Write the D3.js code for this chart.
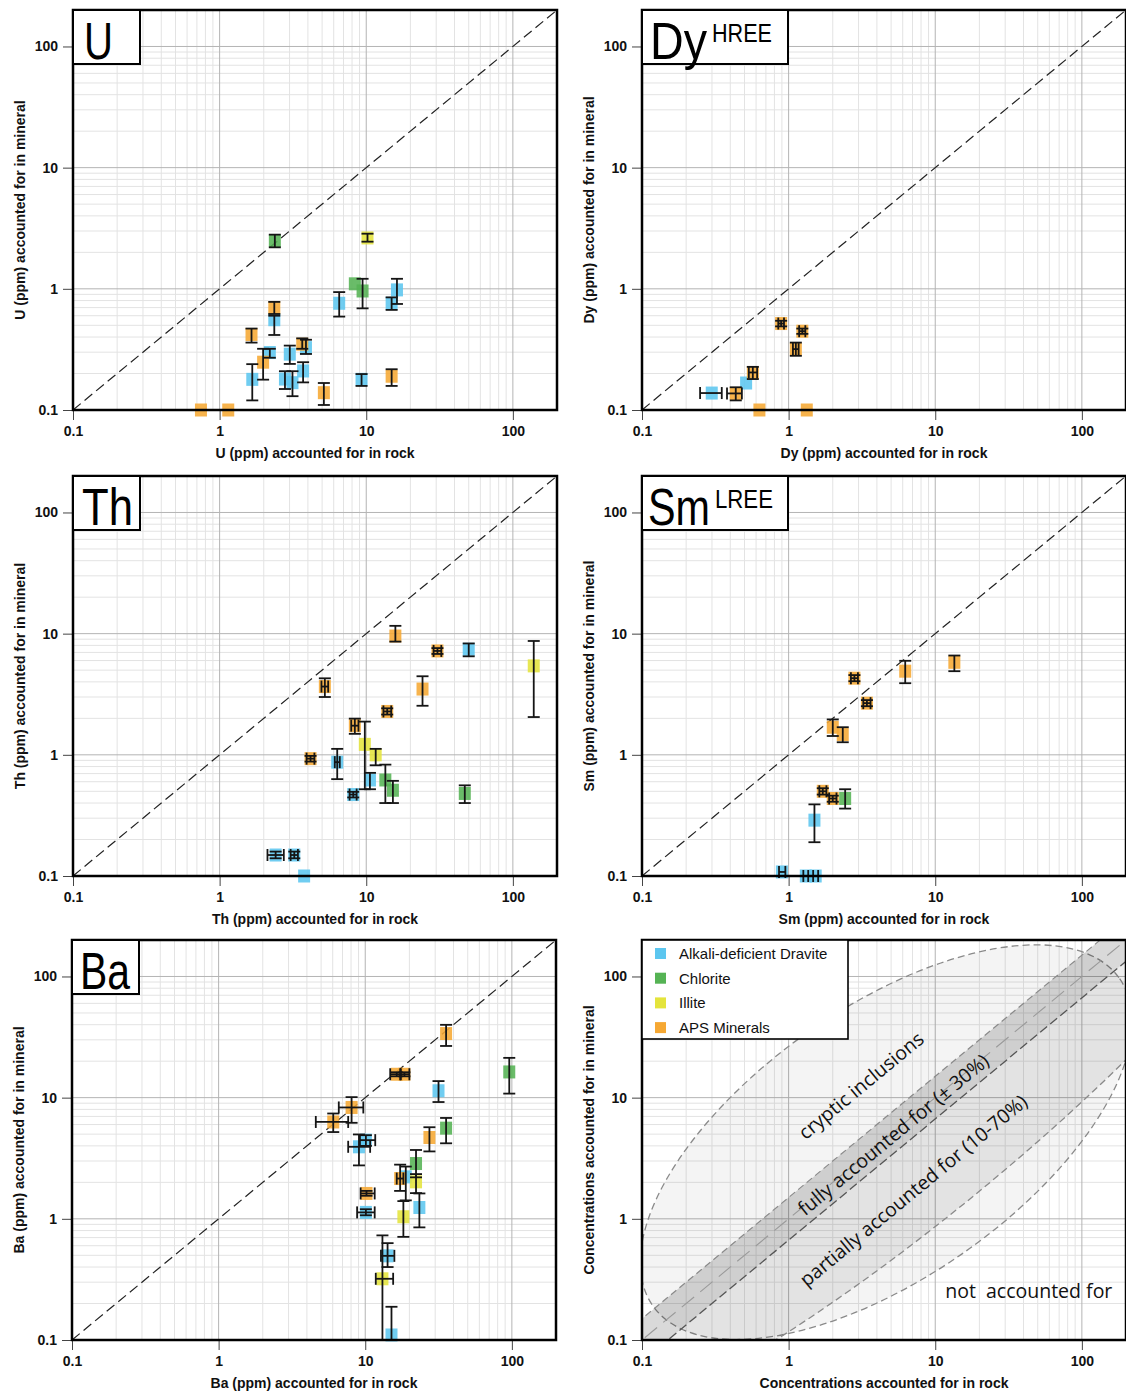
<!DOCTYPE html>
<html>
<head>
<meta charset="utf-8">
<script src="https://cdn.jsdelivr.net/npm/d3@7"></script>
<style>
  body { margin: 0; background: #fff; }
  svg text { font-family: "Liberation Sans", Arial, Helvetica, sans-serif; }
</style>
</head>
<body>
<div id="chart"></div>
<script>
// mineral groups
const groupKeys = ["D", "C", "I", "A"];
const groupNames = ["Alkali-deficient Dravite", "Chlorite", "Illite", "APS Minerals"];
const groupColors = ["#5cc6ef", "#55b354", "#e4e43c", "#f6a833"];

const tickValues = [0.1, 1, 10, 100];
const tickLabels = ["0.1", "1", "10", "100"];

// [group, rock, mineral, mineralLo, mineralHi, rockLo, rockHi]
const uPoints = [
  ["C", 2.38, 2.49, 2.2, 2.8],
  ["I", 10.2, 2.63, 2.45, 2.85],
  ["C", 8.36, 1.10],
  ["C", 9.44, 0.96, 0.69, 1.21],
  ["D", 16.2, 0.98, 0.75, 1.21],
  ["D", 14.9, 0.76, 0.67, 0.85],
  ["D", 6.54, 0.76, 0.59, 0.94],
  ["D", 2.36, 0.556, 0.416, 0.60],
  ["A", 2.36, 0.70, 0.62, 0.78],
  ["A", 1.65, 0.42, 0.36, 0.47],
  ["D", 2.20, 0.298, 0.27, 0.32],
  ["A", 1.98, 0.248, 0.178, 0.32],
  ["D", 3.01, 0.289, 0.24, 0.34],
  ["D", 3.88, 0.327, 0.29, 0.38],
  ["A", 3.66, 0.349, 0.32, 0.39],
  ["D", 2.79, 0.18, 0.149, 0.209],
  ["D", 3.14, 0.168, 0.13, 0.209],
  ["D", 3.71, 0.21, 0.169, 0.248],
  ["D", 1.67, 0.179, 0.12, 0.239],
  ["A", 5.14, 0.139, 0.11, 0.167],
  ["D", 9.29, 0.179, 0.158, 0.198],
  ["A", 14.9, 0.19, 0.158, 0.217],
  ["A", 0.746, 0.1],
  ["A", 1.145, 0.1]
];

const dyPoints = [
  ["A", 0.889, 0.517, 0.49, 0.545, 0.85, 0.93],
  ["A", 1.24, 0.447, 0.425, 0.47, 1.18, 1.30],
  ["A", 1.12, 0.318, 0.28, 0.36, 1.07, 1.17],
  ["D", 0.513, 0.167],
  ["A", 0.570, 0.204, 0.18, 0.227, 0.535, 0.61],
  ["A", 0.436, 0.137, 0.12, 0.154, 0.38, 0.48],
  ["D", 0.299, 0.138, null, null, 0.249, 0.35],
  ["A", 0.632, 0.1],
  ["A", 1.33, 0.1]
];

const thPoints = [
  ["A", 15.8, 9.56, 8.6, 11.6],
  ["A", 30.6, 7.2, 6.8, 7.6, 28.8, 32.5],
  ["D", 50, 7.43, 6.5, 8.3],
  ["I", 138.8, 5.42, 2.05, 8.7],
  ["A", 5.22, 3.66, 3.0, 4.28, 4.95, 5.5],
  ["A", 24.2, 3.49, 2.54, 4.45],
  ["A", 13.9, 2.28, 2.15, 2.42, 13.1, 14.8],
  ["A", 8.36, 1.74, 1.49, 1.99, 7.9, 8.85],
  ["I", 9.78, 1.22, 0.52, 1.88],
  ["I", 11.6, 1.0, 0.82, 1.12],
  ["A", 4.17, 0.93, 0.88, 0.98, 3.92, 4.43],
  ["D", 6.34, 0.87, 0.63, 1.12, 6.1, 6.6],
  ["D", 10.6, 0.62, 0.52, 0.71],
  ["D", 8.15, 0.47, 0.445, 0.495, 7.7, 8.6],
  ["C", 13.5, 0.62, 0.40, 0.83],
  ["C", 15.2, 0.51, 0.40, 0.61],
  ["C", 47, 0.48, 0.40, 0.56],
  ["D", 2.41, 0.149, 0.14, 0.159, 2.12, 2.74],
  ["D", 3.23, 0.149, 0.14, 0.159, 3.05, 3.42],
  ["D", 3.77, 0.1]
];

const smPoints = [
  ["A", 13.5, 5.8, 4.9, 6.6],
  ["A", 6.24, 4.9, 3.9, 5.97],
  ["A", 2.81, 4.29, 4.05, 4.55, 2.66, 2.97],
  ["A", 3.42, 2.67, 2.52, 2.83, 3.23, 3.62],
  ["A", 2.0, 1.69, 1.43, 1.96],
  ["A", 2.34, 1.47, 1.27, 1.69],
  ["A", 1.71, 0.50, 0.47, 0.53, 1.62, 1.81],
  ["A", 2.0, 0.436, 0.41, 0.46, 1.89, 2.12],
  ["C", 2.43, 0.436, 0.36, 0.52],
  ["D", 1.50, 0.289, 0.19, 0.39],
  ["D", 0.90, 0.108, null, null, 0.86, 0.95],
  ["D", 1.31, 0.1, null, null, 1.26, 1.36],
  ["D", 1.53, 0.1, null, null, 1.47, 1.59]
];

const baPoints = [
  ["A", 35.6, 33.8, 26.7, 39.9],
  ["C", 96, 16.3, 10.8, 21.3],
  ["A", 16.4, 15.6, 15.0, 16.2, 14.8, 17.5],
  ["A", 18.5, 15.6, 15.0, 16.2, 17.3, 20.0],
  ["D", 31.6, 11.4, 9.2, 13.7],
  ["C", 35.6, 5.6, 4.2, 6.8],
  ["A", 27.4, 4.69, 3.6, 5.7],
  ["A", 8.07, 8.3, 6.2, 10.1, 6.6, 9.7],
  ["A", 6.05, 6.3, 5.2, 7.4, 4.6, 7.65],
  ["D", 10.1, 4.46, 4.0, 4.9, 9.2, 11.7],
  ["D", 9.06, 3.93, 2.76, 4.97, 7.65, 10.8],
  ["C", 22.2, 2.86, 2.2, 3.7],
  ["D", 18.9, 2.22, 1.42, 2.7],
  ["A", 17.3, 2.15, 1.7, 2.8, 16.4, 18.2],
  ["I", 22.2, 2.02, 1.63, 2.34],
  ["A", 10.2, 1.62, 1.55, 1.7, 9.3, 11.6],
  ["D", 10.1, 1.13, 1.07, 1.2, 8.8, 11.6],
  ["D", 23.4, 1.24, 0.85, 1.62],
  ["I", 18.2, 1.04, 0.71, 1.4],
  ["D", 14.2, 0.495, 0.40, 0.63, 12.8, 15.8],
  ["I", 13.1, 0.32, 0.05, 0.73, 11.8, 15.5],
  ["D", 15.1, 0.11, 0.05, 0.188]
];

// schematic panel: zones (centre in data units, radii in px along/across the 1:1 direction)
const zoneEllipses = [
  { cx: 4.63, cy: 4.29, rx: 285, ry: 135, rot: -35, fill: "rgba(0,0,0,0.045)", clipBelowBand: false },
  { cx: 9.25, cy: 6.2, rx: 450, ry: 84, rot: null, fill: "rgba(0,0,0,0.065)", clipBelowBand: true }
];
const bandFactor = 1.5;
const zoneLabels = [
  ["cryptic inclusions", 3.1, 12.7],
  ["fully accounted for (± 30%)", 5.15, 5.0],
  ["partially accounted for (10-70%)", 7.06, 1.73]
];
const outsideLabel = ["not  accounted for", 11.7, 0.222];

const PW = 484, PH = 400;
// lx/lw: element label x and width, sw: superscript width, box: label box width
const panels = [
  { el: "U", sup: "", pts: uPoints, left: 73, top: 10, box: 67, lx: 11, lw: 29,
    xt: "U (ppm) accounted for in rock", yt: "U (ppm) accounted for in mineral" },
  { el: "Dy", sup: "HREE", pts: dyPoints, left: 642, top: 10, box: 146, lx: 8, lw: 57, sw: 60,
    xt: "Dy (ppm) accounted for in rock", yt: "Dy (ppm) accounted for in mineral" },
  { el: "Th", sup: "", pts: thPoints, left: 73, top: 476, box: 67, lx: 9, lw: 51,
    xt: "Th (ppm) accounted for in rock", yt: "Th (ppm) accounted for in mineral" },
  { el: "Sm", sup: "LREE", pts: smPoints, left: 642, top: 476, box: 146, lx: 6, lw: 62, sw: 58,
    xt: "Sm (ppm) accounted for in rock", yt: "Sm (ppm) accounted for in mineral" },
  { el: "Ba", sup: "", pts: baPoints, left: 72, top: 940, box: 67, lx: 8, lw: 50,
    xt: "Ba (ppm) accounted for in rock", yt: "Ba (ppm) accounted for in mineral" },
  { el: null, schematic: true, pts: [], left: 642, top: 940,
    xt: "Concentrations accounted for in rock", yt: "Concentrations accounted for in mineral" }
];

const x = d3.scaleLog().domain([0.1, 200]).range([0, PW]);
const y = d3.scaleLog().domain([0.1, 200]).range([PH, 0]);
const clampV = v => Math.max(0.1, Math.min(200, v));
const isMajor = v => Math.abs(Math.log10(v) - Math.round(Math.log10(v))) < 1e-6;
const diagAngle = Math.atan2(y(10) - y(1), x(10) - x(1)) * 180 / Math.PI;

const svg = d3.select("#chart").append("svg")
  .attr("width", 1126).attr("height", 1395);

// squeeze a text horizontally to a given width (narrow label font)
function fitText(g, str, tx, ty, size, width) {
  const t = g.append("text").attr("x", 0).attr("y", 0)
    .style("font-family", "'Liberation Sans', Arial, sans-serif")
    .style("font-size", size + "px").attr("fill", "#000")
    .text(str);
  const natural = t.node().getComputedTextLength();
  t.attr("transform", `translate(${tx},${ty}) scale(${width / natural},1)`);
  return t;
}

panels.forEach((p, i) => {
  const g = svg.append("g").attr("transform", `translate(${p.left},${p.top})`);

  g.append("clipPath").attr("id", "clip" + i)
    .append("rect").attr("width", PW).attr("height", PH);

  // grid
  const grid = g.append("g");
  grid.selectAll("line.gx").data(x.ticks()).join("line")
    .attr("x1", d => x(d)).attr("x2", d => x(d))
    .attr("y1", 0).attr("y2", PH)
    .attr("stroke", d => isMajor(d) ? "#b4b4b4" : "#e3e3e3")
    .attr("stroke-width", 1);
  grid.selectAll("line.gy").data(y.ticks()).join("line")
    .attr("y1", d => y(d)).attr("y2", d => y(d))
    .attr("x1", 0).attr("x2", PW)
    .attr("stroke", d => isMajor(d) ? "#b4b4b4" : "#e3e3e3")
    .attr("stroke-width", 1);
  // draw major lines above minor
  grid.selectAll("line").filter(d => isMajor(d)).raise();

  if (p.schematic) {
    const z = g.append("g").attr("clip-path", `url(#clip${i})`);
    const far = [0.001, 100000];
    // region below the lower band edge
    z.append("clipPath").attr("id", "below" + i).append("path")
      .attr("d", d3.line()([
        [x(far[0]), y(far[0] / bandFactor)],
        [x(far[1]), y(far[1] / bandFactor)],
        [x(far[1]), PH + 2000],
        [x(far[0]), PH + 2000]
      ]));
    zoneEllipses.forEach(e => {
      const rot = e.rot == null ? diagAngle : e.rot;
      const el = z.append("ellipse")
        .attr("cx", 0).attr("cy", 0)
        .attr("rx", e.rx).attr("ry", e.ry)
        .attr("transform", `translate(${x(e.cx)},${y(e.cy)}) rotate(${rot})`)
        .attr("fill", e.fill)
        .attr("stroke", "#8a8a8a").attr("stroke-width", 1.3)
        .attr("stroke-dasharray", "7,4");
      if (e.clipBelowBand) {
        const wrap = z.append("g").attr("clip-path", `url(#below${i})`);
        wrap.node().appendChild(el.node());
      }
    });
    // band of full accounting
    const band = [
      [x(far[0]), y(far[0] * bandFactor)],
      [x(far[1]), y(far[1] * bandFactor)],
      [x(far[1]), y(far[1] / bandFactor)],
      [x(far[0]), y(far[0] / bandFactor)]
    ];
    z.append("path").attr("d", d3.line()(band) + "Z")
      .attr("fill", "rgba(0,0,0,0.15)");
    z.append("line")
      .attr("x1", x(far[0])).attr("y1", y(far[0] * bandFactor))
      .attr("x2", x(far[1])).attr("y2", y(far[1] * bandFactor))
      .attr("stroke", "#8a8a8a").attr("stroke-width", 1.2).attr("stroke-dasharray", "7,4");
    z.append("line")
      .attr("x1", x(far[0])).attr("y1", y(far[0]))
      .attr("x2", x(far[1])).attr("y2", y(far[1]))
      .attr("stroke", "#9a9a9a").attr("stroke-width", 1.1).attr("stroke-dasharray", "16,8");
    z.append("line")
      .attr("x1", x(far[0])).attr("y1", y(far[0] / bandFactor))
      .attr("x2", x(far[1])).attr("y2", y(far[1] / bandFactor))
      .attr("stroke", "#555").attr("stroke-width", 1.3).attr("stroke-dasharray", "9,4");

    zoneLabels.forEach(l => {
      g.append("text")
        .attr("transform", `translate(${x(l[1])},${y(l[2])}) rotate(${diagAngle})`)
        .attr("text-anchor", "middle").attr("dominant-baseline", "central")
        .style("font-family", "'Open Sans', 'Noto Sans', sans-serif")
        .style("font-size", "19.5px").attr("fill", "#111")
        .text(l[0]);
    });
    g.append("text")
      .attr("x", x(outsideLabel[1])).attr("y", y(outsideLabel[2]))
      .style("font-family", "'Open Sans', 'Noto Sans', sans-serif")
      .style("font-size", "19.5px").attr("fill", "#111")
      .attr("xml:space", "preserve")
      .text(outsideLabel[0]);
  } else {
    g.append("line")
      .attr("x1", x(0.1)).attr("y1", y(0.1))
      .attr("x2", x(200)).attr("y2", y(200))
      .attr("stroke", "#222").attr("stroke-width", 1.2)
      .attr("stroke-dasharray", "10,5");
  }

  // axes
  const xa = g.append("g").attr("transform", `translate(0,${PH})`)
    .call(d3.axisBottom(x).tickValues(tickValues)
      .tickFormat((d, k) => tickLabels[k]).tickSize(10).tickPadding(6));
  const ya = g.append("g")
    .call(d3.axisLeft(y).tickValues(tickValues)
      .tickFormat((d, k) => tickLabels[k]).tickSize(10).tickPadding(5));
  [xa, ya].forEach(a => {
    a.select(".domain").remove();
    a.selectAll(".tick line").attr("stroke", "#444");
    a.selectAll("text").style("font-size", "14px").style("font-weight", "bold")
      .style("font-family", "'Liberation Sans', Arial, sans-serif").attr("fill", "#111");
  });

  g.append("text")
    .attr("x", PW / 2).attr("y", PH + 48)
    .attr("text-anchor", "middle")
    .style("font-size", "14px").style("font-weight", "bold").attr("fill", "#111")
    .text(p.xt);
  g.append("text")
    .attr("transform", `translate(-48,${PH / 2}) rotate(-90)`)
    .attr("text-anchor", "middle")
    .style("font-size", "14px").style("font-weight", "bold").attr("fill", "#111")
    .text(p.yt);

  // points
  const pts = p.pts.map(r => ({ g: r[0], x: r[1], y: r[2], yl: r[3], yh: r[4], xl: r[5], xh: r[6] }));
  const color = d => groupColors[groupKeys.indexOf(d.g)];
  g.append("g").selectAll("rect").data(pts).join("rect")
    .attr("x", d => x(d.x) - 6).attr("y", d => y(d.y) - 6.5)
    .attr("width", 12).attr("height", 13)
    .attr("fill", color).attr("fill-opacity", 0.88);

  const eb = g.append("g").attr("stroke", "#151515").attr("stroke-width", 1.8).attr("fill", "none");
  pts.forEach(d => {
    const cx = x(d.x), cy = y(d.y);
    if (d.yl != null) {
      const y1 = y(clampV(d.yl)), y2 = y(clampV(d.yh));
      eb.append("line").attr("x1", cx).attr("x2", cx).attr("y1", y1).attr("y2", y2);
      if (d.yl >= 0.1) eb.append("line").attr("x1", cx - 6).attr("x2", cx + 6).attr("y1", y1).attr("y2", y1);
      eb.append("line").attr("x1", cx - 6).attr("x2", cx + 6).attr("y1", y2).attr("y2", y2);
    }
    if (d.xl != null) {
      const x1 = x(clampV(d.xl)), x2 = x(clampV(d.xh));
      eb.append("line").attr("x1", x1).attr("x2", x2).attr("y1", cy).attr("y2", cy);
      eb.append("line").attr("x1", x1).attr("x2", x1).attr("y1", cy - 6).attr("y2", cy + 6);
      eb.append("line").attr("x1", x2).attr("x2", x2).attr("y1", cy - 6).attr("y2", cy + 6);
    }
  });

  // frame
  g.append("rect").attr("width", PW).attr("height", PH)
    .attr("fill", "none").attr("stroke", "#000").attr("stroke-width", 2.5);

  // element label box
  if (p.el) {
    g.append("rect").attr("width", p.box).attr("height", 54)
      .attr("fill", "#fff").attr("stroke", "#000").attr("stroke-width", 2);
    fitText(g, p.el, p.lx, 49, 51, p.lw);
    if (p.sup) fitText(g, p.sup, p.lx + p.lw + 5, 32, 26, p.sw);
  }

  // legend
  if (p.schematic) {
    const lg = g.append("g");
    lg.append("rect").attr("width", 206).attr("height", 99)
      .attr("fill", "#fff").attr("stroke", "#000").attr("stroke-width", 1.6);
    groupNames.forEach((n, k) => {
      lg.append("rect").attr("x", 13).attr("y", 8 + k * 24.7)
        .attr("width", 11).attr("height", 11).attr("fill", groupColors[k]);
      lg.append("text").attr("x", 37).attr("y", 19 + k * 24.7)
        .style("font-size", "15px").attr("fill", "#111").text(n);
    });
  }
});
</script>
</body>
</html>
